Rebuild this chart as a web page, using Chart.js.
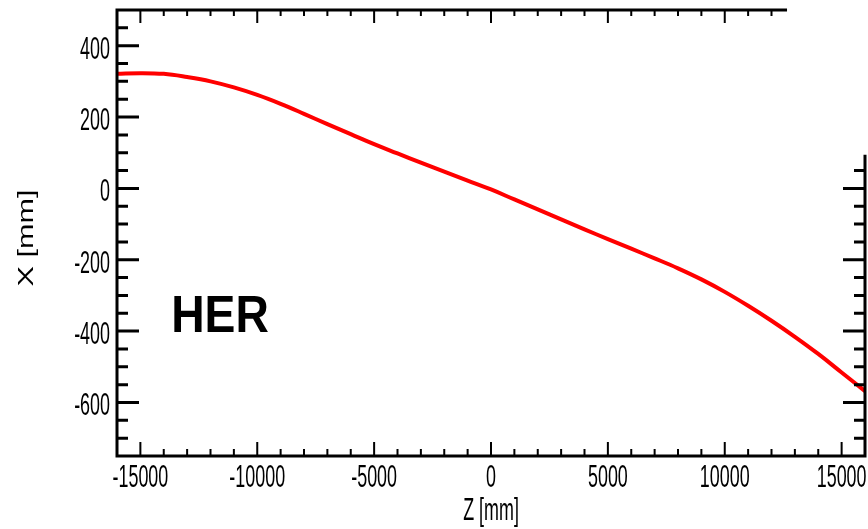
<!DOCTYPE html>
<html>
<head>
<meta charset="utf-8">
<script src="https://cdn.jsdelivr.net/npm/chart.js@4"></script>
<style>
  body { margin: 0; background: #fff; }
  canvas { display: block; }
</style>
</head>
<body>
<canvas id="myChart" width="868" height="529"></canvas>
<script>
// posicion Z [mm] (eje x)
const posicionZ = [-16000, -15000, -14000, -13000, -12000, -11000, -10000, -9000, -8000, -7000, -6000,
  -5000, -4000, -3000, -2000, -1000, 0, 1000, 2000, 3000, 4000, 5000,
  6000, 7000, 8000, 9000, 10000, 11000, 12000, 13000, 14000, 15000, 16000];
// posicion X [mm] (eje y)
const posicionX = [321, 323, 321, 312, 300, 283, 262, 237, 209, 180, 152,
  124, 98, 72, 47, 22, -3, -31, -59, -87, -115, -142,
  -169, -196, -224, -255, -290, -329, -371, -416, -464, -516, -568];

const etiquetasX = [-15000, -10000, -5000, 0, 5000, 10000, 15000];
const etiquetasY = [400, 200, 0, -200, -400, -600];
const rangoX = [-16000, 16000];
const rangoY = [-750, 500];
const tituloX = "Z [mm]";
const tituloY = "X [mm]";
const nombreAnillo = "HER";

const fuente = "'Liberation Sans', Arial, sans-serif";

// texto estrecho (el original esta comprimido en horizontal)
const texto = (ctx, txt, x, y, align, sx) => {
  ctx.save();
  ctx.translate(x, y);
  ctx.scale(sx, 1);
  ctx.textAlign = align;
  ctx.textBaseline = "alphabetic";
  ctx.fillText(txt, 0, 0);
  ctx.restore();
};

const ejes = {
  id: "ejes",
  afterDraw(chart) {
    const ctx = chart.ctx;
    const xs = chart.scales.x;
    const ys = chart.scales.y;
    const a = chart.chartArea;
    const finArriba = xs.getPixelForValue(12600);
    const inicioDerecha = ys.getPixelForValue(90);

    ctx.save();
    ctx.strokeStyle = "#000";
    ctx.lineCap = "square";

    // marco (recortado como en la imagen)
    ctx.lineWidth = 3;
    ctx.beginPath();
    ctx.moveTo(finArriba, a.top);
    ctx.lineTo(a.left, a.top);
    ctx.lineTo(a.left, a.bottom);
    ctx.lineTo(a.right, a.bottom);
    ctx.lineTo(a.right, inicioDerecha);
    ctx.stroke();

    // marcas eje y, hacia dentro
    ctx.lineCap = "butt";
    ctx.beginPath();
    for (let v = rangoY[0] + 50; v < rangoY[1]; v += 50) {
      const py = ys.getPixelForValue(v);
      const largo = v % 200 === 0 ? 22 : 11;
      ctx.moveTo(a.left, py);
      ctx.lineTo(a.left + largo, py);
      if (py >= inicioDerecha) {
        ctx.moveTo(a.right, py);
        ctx.lineTo(a.right - largo, py);
      }
    }
    ctx.stroke();

    // marcas eje x
    ctx.lineWidth = 2;
    ctx.beginPath();
    for (let v = rangoX[0] + 1000; v < rangoX[1]; v += 1000) {
      const px = xs.getPixelForValue(v);
      const mayor = v % 5000 === 0;
      ctx.moveTo(px, a.bottom);
      ctx.lineTo(px, a.bottom - (mayor ? 14 : 7));
      if (px <= finArriba) {
        ctx.moveTo(px, a.top);
        ctx.lineTo(px, a.top + (mayor ? 13 : 6));
      }
    }
    ctx.stroke();

    // etiquetas
    ctx.fillStyle = "#000";
    ctx.font = "32px " + fuente;
    etiquetasY.forEach((v) => {
      texto(ctx, String(v), a.left - 7, ys.getPixelForValue(v) + 13, "right", 0.56);
    });
    etiquetasX.forEach((v) => {
      texto(ctx, String(v), xs.getPixelForValue(v), a.bottom + 31, "center", 0.56);
    });
    texto(ctx, tituloX, (a.left + a.right) / 2, 520, "center", 0.56);

    // titulo eje y, girado
    ctx.save();
    ctx.font = "22px " + fuente;
    ctx.translate(33, (a.top + a.bottom) / 2 + 5);
    ctx.rotate(-Math.PI / 2);
    ctx.scale(1.39, 1);
    ctx.textAlign = "center";
    ctx.fillText(tituloY, 0, 0);
    ctx.restore();

    // HER
    ctx.font = "bold 52px " + fuente;
    texto(ctx, nombreAnillo, 220, 332, "center", 0.89);

    ctx.restore();
  },
};

const myChart = document.getElementById("myChart");

new Chart(myChart, {
  type: "line",
  data: {
    datasets: [
      {
        label: nombreAnillo,
        data: posicionZ.map((z, i) => ({ x: z, y: posicionX[i] })),
        borderColor: "#ff0000",
        borderWidth: 4,
        pointRadius: 0,
        fill: false,
        tension: 0.4,
      },
    ],
  },
  options: {
    responsive: false,
    animation: false,
    layout: { padding: { left: 117, top: 10, right: 3, bottom: 73 } },
    plugins: { legend: { display: false }, tooltip: { enabled: false } },
    scales: {
      x: { type: "linear", min: rangoX[0], max: rangoX[1], display: false },
      y: { type: "linear", min: rangoY[0], max: rangoY[1], display: false },
    },
  },
  plugins: [ejes],
});
</script>
</body>
</html>
